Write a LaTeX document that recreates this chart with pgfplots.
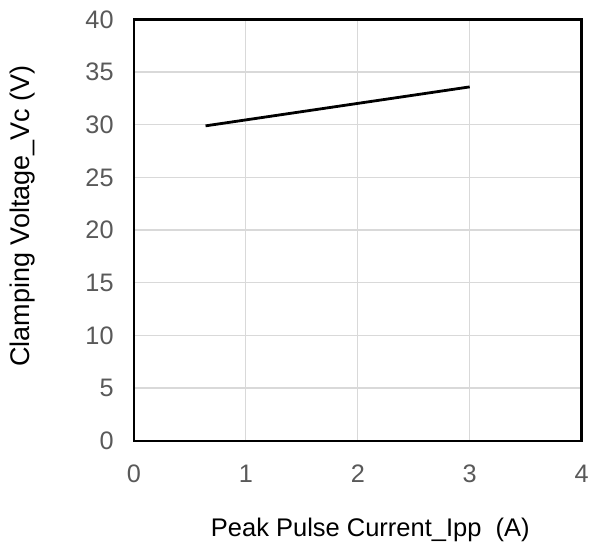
\documentclass[border=0pt]{standalone}
\usepackage{pgfplots}
\pgfplotsset{compat=1.18}
\usepackage{fontspec}
\setmainfont{Liberation Sans}
\definecolor{tickgray}{HTML}{595959}
\definecolor{gridgray}{HTML}{D9D9D9}
\begin{document}
\begin{tikzpicture}
\begin{axis}[
    scale only axis,
    width=448pt, height=421.5pt,
    xmin=0, xmax=4, ymin=0, ymax=40,
    xtick={0,1,2,3,4},
    ytick={0,5,10,15,20,25,30,35,40},
    tick style={draw=none},
    grid=major,
    major grid style={gridgray, line width=1.3pt},
    axis line style={black, line width=2.4pt},
    /pgf/number format/assume math mode=true,
    ticklabel style={font=\fontsize{25.3}{29}\selectfont, text=tickgray},
    label style={text=black, inner sep=0pt},
    xticklabel style={yshift=-20.5pt},
    yticklabel style={xshift=-16.8pt},
    xlabel={Peak Pulse Current\_Ipp\ \ (A)},
    ylabel={Clamping Voltage\_Vc (V)},
    xlabel style={font=\fontsize{25.5}{29}\selectfont,
        at={(axis description cs:0.528,-0.1827)}, anchor=north},
    ylabel style={font=\fontsize{27}{31}\selectfont,
        at={(axis description cs:-0.221,0.533)}, anchor=south},
]
\addplot[black, line width=2.8pt] coordinates {
    (0.64,29.9)
    (3.0,33.6)
};
\end{axis}
\path (current axis.south west) ++(-134pt,-108pt) coordinate (bbl);
\path (current axis.north east) ++(10pt,19.5pt) coordinate (bbr);
\path (bbl) rectangle (bbr);
\end{tikzpicture}
\end{document}
